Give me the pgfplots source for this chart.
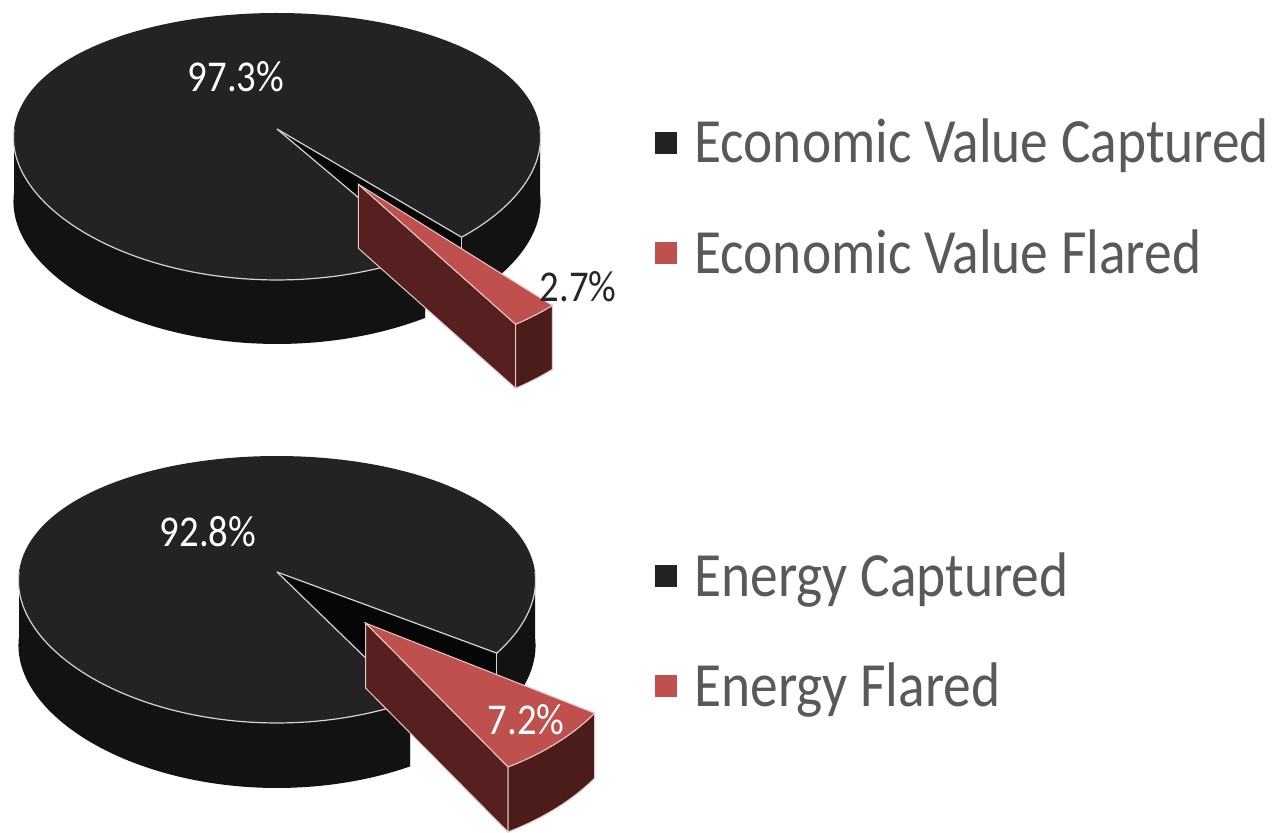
\documentclass[border=0pt]{standalone}
\usepackage{fontspec}
\setmainfont{Carlito}
\newfontfamily\lab{Carlito}[FakeStretch=0.88]
\usepackage{pgfplots}
\usepackage{pgfplotstable}
\pgfplotsset{compat=1.18}

\definecolor{pieblack}{HTML}{232323}
\definecolor{pieside}{HTML}{121212}
\definecolor{piewall}{HTML}{060606}
\definecolor{piered}{HTML}{C0504D}
\definecolor{redside}{HTML}{4C1C1B}
\definecolor{redwall}{HTML}{55201F}
\definecolor{edgec}{HTML}{D4D4D4}
\definecolor{rededge}{HTML}{EBC8C7}
\definecolor{legtext}{HTML}{595959}
\definecolor{labdark}{HTML}{262626}

% data
\pgfplotstableread{
share value
captured 97.3
flared 2.7
}\econ
\pgfplotstableread{
share value
captured 92.8
flared 7.2
}\energy

% perspective projection of a point of the pie (angle, radius, explode offset)
\tikzset{declare function={
 PX(\ang,\rad,\ox,\oy)=\CX+\AW*(\ox+\rad*cos(\ang))/(1+0.065*(\oy+\rad*sin(\ang)));
 PY(\ang,\rad,\ox,\oy)=\CY+131.2*(\oy+\rad*sin(\ang))/(1+0.131*(\oy+\rad*sin(\ang)));
}}

% #1 CX, #2 CY, #3 half width, #4 depth, #5 end angle of small slice, #6 small value, #7 explode
\newcommand\setpie[7]{%
 \xdef\CX{#1}\xdef\CY{#2}\xdef\AW{#3}\xdef\HH{#4}%
 \pgfmathparse{#5}\xdef\RE{\pgfmathresult}%
 \pgfmathparse{#5-3.6*#6}\xdef\RS{\pgfmathresult}%
 \pgfmathparse{#5-1.8*#6}\xdef\RM{\pgfmathresult}%
 \pgfmathparse{#7*cos(\RM)}\xdef\OX{\pgfmathresult}%
 \pgfmathparse{#7*sin(\RM)}\xdef\OY{\pgfmathresult}%
 \pgfmathparse{360+\RS}\xdef\BE{\pgfmathresult}%
 \pgfmathparse{360+\RE}\xdef\RER{\pgfmathresult}%
}

\newcommand\drawpie{%
 % black wall seen in the gap
 \addplot[forget plot, fill=piewall, draw=none, samples at={0,1,2,3}]
  ({PX(\RE,(x>0.5)*(x<2.5),0,0)},{PY(\RE,(x>0.5)*(x<2.5),0,0)-\HH*(x>1.5)}) -- cycle;
 % black side, front left
 \addplot[forget plot, fill=pieside, draw=none, domain=0:2.2, samples=221]
  ({PX(180+(\BE-180)*min(min(x,2.2-x),1),1,0,0)},{PY(180+(\BE-180)*min(min(x,2.2-x),1),1,0,0)-\HH*(x>1.1)}) -- cycle;
 % black side, right
 \addplot[forget plot, fill=pieside, draw=none, domain=0:2.2, samples=221]
  ({PX(\RER+(360-\RER)*min(min(x,2.2-x),1),1,0,0)},{PY(\RER+(360-\RER)*min(min(x,2.2-x),1),1,0,0)-\HH*(x>1.1)}) -- cycle;
 % black top
 \addplot[forget plot, fill=pieblack, draw=none, domain=0:1.2, samples=241]
  ({PX(\RE+(\BE-\RE)*min(x,1),(x<1.1),0,0)},{PY(\RE+(\BE-\RE)*min(x,1),(x<1.1),0,0)}) -- cycle;
 % black edges
 \addplot[forget plot, edgec, line width=0.6pt, domain=180:\BE, samples=90] ({PX(x,1,0,0)},{PY(x,1,0,0)});
 \addplot[forget plot, edgec, line width=0.6pt, domain=\RER:360, samples=40] ({PX(x,1,0,0)},{PY(x,1,0,0)});
 \addplot[forget plot, edgec, line width=0.6pt, domain=0:1, samples=2] ({PX(\RE,x,0,0)},{PY(\RE,x,0,0)});
 \addplot[forget plot, edgec, line width=0.6pt, domain=0:1, samples=2] ({PX(\BE,x,0,0)},{PY(\BE,x,0,0)});
 \addplot[forget plot, edgec, line width=0.6pt, domain=0:1, samples=2] ({PX(\BE,1,0,0)},{PY(\BE,1,0,0)-\HH*x});
 \addplot[forget plot, edgec, line width=0.6pt, domain=0:1, samples=2] ({PX(\RE,1,0,0)},{PY(\RE,1,0,0)-\HH*x});
 % red wall
 \addplot[forget plot, fill=redwall, draw=rededge, line width=0.5pt, samples at={0,1,2,3}]
  ({PX(\RS,(x>0.5)*(x<2.5),\OX,\OY)},{PY(\RS,(x>0.5)*(x<2.5),\OX,\OY)-\HH*(x>1.5)}) -- cycle;
 % red outer side
 \addplot[forget plot, fill=redside, draw=rededge, line width=0.5pt, domain=0:2.2, samples=111]
  ({PX(\RS+(\RE-\RS)*min(min(x,2.2-x),1),1,\OX,\OY)},{PY(\RS+(\RE-\RS)*min(min(x,2.2-x),1),1,\OX,\OY)-\HH*(x>1.1)}) -- cycle;
 % red top
 \addplot[forget plot, fill=piered, draw=rededge, line width=0.5pt, domain=0:1.2, samples=121]
  ({PX(\RS+(\RE-\RS)*min(x,1),(x<1.1),\OX,\OY)},{PY(\RS+(\RE-\RS)*min(x,1),(x<1.1),\OX,\OY)}) -- cycle;
}

\pgfplotsset{
 piechart/.style={
  at={(0,0)}, anchor=south west, scale only axis,
  width=640.5pt, height=416pt,
  xmin=0, xmax=1281, ymin=0, ymax=832,
  hide axis, clip=false,
  legend cell align=left,
  legend image code/.code={\fill[##1, draw=none] (0pt,-5.5pt) rectangle (11pt,5.5pt);\path[draw=none, fill=none] (11pt,-0.1pt) rectangle (17.5pt,0.1pt);},
  legend style={draw=none, fill=none, inner sep=0pt,
    font=\lab\fontsize{31.5}{37}\selectfont, text=legtext, row sep=28pt},
 }
}

\begin{document}
\begin{tikzpicture}
\useasboundingbox (0,0) rectangle (640.5pt,416pt);

% ---- top pie: economic value
\pgfplotstablegetelem{1}{value}\of\econ
\setpie{277}{703}{263}{64}{-48.1}{\pgfplotsretval}{0.5}
\begin{axis}[piechart, legend style={at={(axis cs:655,634)}, anchor=west}]
\drawpie
\node[font=\lab\fontsize{22}{26}\selectfont, text=white] at (axis cs:236,755) {97.3\%};
\node[font=\lab\fontsize{22}{26}\selectfont, text=labdark] at (axis cs:578,545) {2.7\%};
\addlegendimage{fill=pieblack}
\addlegendentry{Economic Value Captured}
\addlegendimage{fill=piered}
\addlegendentry{Economic Value Flared}
\end{axis}

% ---- bottom pie: energy
\pgfplotstablegetelem{1}{value}\of\energy
\setpie{277}{260}{258}{65}{-34.9}{\pgfplotsretval}{0.5}
\begin{axis}[piechart, legend style={at={(axis cs:655,201)}, anchor=west}]
\drawpie
\node[font=\lab\fontsize{22}{26}\selectfont, text=white] at (axis cs:208,300) {92.8\%};
\node[font=\lab\fontsize{22}{26}\selectfont, text=white] at (axis cs:526,112) {7.2\%};
\addlegendimage{fill=pieblack}
\addlegendentry{Energy Captured}
\addlegendimage{fill=piered}
\addlegendentry{Energy Flared}
\end{axis}
\end{tikzpicture}
\end{document}
